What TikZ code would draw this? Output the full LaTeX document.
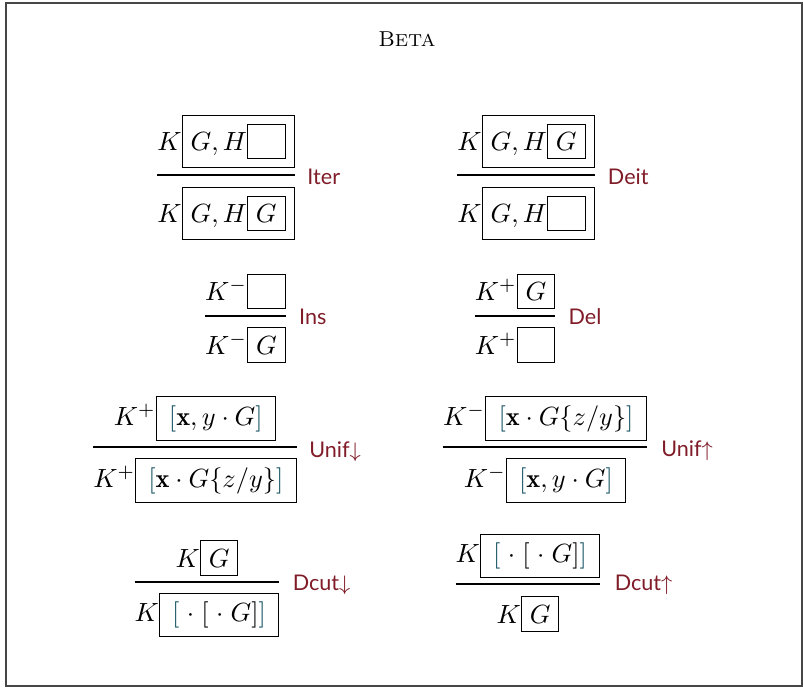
\documentclass[tikz,border=0pt]{standalone}
\usepackage{fontspec}
\newfontfamily\labfont{Lato}
\usetikzlibrary{calc}
\definecolor{labred}{RGB}{128,28,40}
\definecolor{brk}{RGB}{20,82,98}
\definecolor{framegray}{RGB}{70,70,70}
\newcommand{\lbr}{\mathopen{\textcolor{brk}{[}}}
\newcommand{\rbr}{\mathclose{\textcolor{brk}{]}}}
\newcommand{\ebox}{\fbox{$\phantom{G}$}}
\newcommand{\gbox}{\fbox{$G$}}
\setlength{\fboxsep}{3pt}
\setlength{\fboxrule}{0.4pt}
\tikzset{
  rf/.style={inner sep=0pt, outer sep=0pt},
  lab/.style={font=\labfont\fontsize{8.2}{10}\selectfont, text=labred, anchor=west, inner sep=0pt},
  ruleline/.style={line width=0.45pt},
  frame/.style={draw=framegray, line width=0.5pt},
  titlestyle/.style={inner sep=0pt}
}
\begin{document}
\begin{tikzpicture}[x=0.38pt, y=-0.38pt]
\useasboundingbox (0,0) rectangle (803,688);
\draw[frame] (6,3) rectangle (802,686);
\node[titlestyle] (title) at (407,39) {\fontsize{8.2}{10}\selectfont B\fontsize{6.6}{8}\selectfont ETA};

% Iter
\node[rf] (iterP) at (226,141.5) {$K\fbox{$G, H\ebox$}$};
\node[rf] (iterC) at (226,213.5) {$K\fbox{$G, H\gbox$}$};
\coordinate (iterY) at (226,175);
\draw[ruleline] (iterP.west |- iterY) -- (iterP.east |- iterY) coordinate (iterE);
\node[lab] (iterN) at ([xshift=4.7pt, yshift=-0.8pt]iterE) {Iter};

% Deit
\node[rf] (deitP) at (526,141.5) {$K\fbox{$G, H\gbox$}$};
\node[rf] (deitC) at (526,213.5) {$K\fbox{$G, H\ebox$}$};
\coordinate (deitY) at (526,175);
\draw[ruleline] (deitP.west |- deitY) -- (deitP.east |- deitY) coordinate (deitE);
\node[lab] (deitN) at ([xshift=4.9pt, yshift=-0.8pt]deitE) {Deit};

% Ins
\node[rf] (insP) at (245.5,291.5) {$K^-\ebox$};
\node[rf] (insC) at (245.5,345) {$K^-\gbox$};
\coordinate (insY) at (245.5,316);
\draw[ruleline] (insP.west |- insY) -- (insP.east |- insY) coordinate (insE);
\node[lab] (insN) at ([xshift=4.9pt, yshift=-0.4pt]insE) {Ins};

% Del
\node[rf] (delP) at (515,291.5) {$K^+\gbox$};
\node[rf] (delC) at (515,345) {$K^+\ebox$};
\coordinate (delY) at (515,316);
\draw[ruleline] (delP.west |- delY) -- (delP.east |- delY) coordinate (delE);
\node[lab] (delN) at ([xshift=4.9pt, yshift=-0.4pt]delE) {Del};

% Unif down
\node[rf] (udP) at (195,418.5) {$K^+\fbox{$\,\lbr\mathbf{x}, y\cdot G\rbr\,$}$};
\node[rf] (udC) at (195,480.5) {$K^+\fbox{$\,\lbr\mathbf{x}\cdot G\{z/y\}\rbr\,$}$};
\coordinate (udY) at (195,447);
\draw[ruleline] (udC.west |- udY) -- (udC.east |- udY) coordinate (udE);
\node[lab] (udN) at ([xshift=4.6pt, yshift=-1.6pt]udE) {Unif$\downarrow$};

% Unif up
\node[rf] (uuP) at (545,418.5) {$K^-\fbox{$\,\lbr\mathbf{x}\cdot G\{z/y\}\rbr\,$}$};
\node[rf] (uuC) at (545,480.5) {$K^-\fbox{$\,\lbr\mathbf{x}, y\cdot G\rbr\,$}$};
\coordinate (uuY) at (545,447);
\draw[ruleline] (uuP.west |- uuY) -- (uuP.east |- uuY) coordinate (uuE);
\node[lab] (uuN) at ([xshift=5.3pt, yshift=-1.2pt]uuE) {Unif$\uparrow$};

% Dcut down
\node[rf] (dcdP) at (207,558) {$K\gbox$};
\node[rf] (dcdC) at (207,615) {$K\fbox{$\,\lbr\;\cdot\;[\;\cdot\;G]\rbr\,$}$};
\coordinate (dcdY) at (207,582);
\draw[ruleline] (dcdC.west |- dcdY) -- (dcdC.east |- dcdY) coordinate (dcdE);
\node[lab] (dcdN) at ([xshift=4.9pt, yshift=-1.2pt]dcdE) {Dcut$\downarrow$};

% Dcut up
\node[rf] (dcuP) at (528,556) {$K\fbox{$\,\lbr\;\cdot\;[\;\cdot\;G]\rbr\,$}$};
\node[rf] (dcuC) at (528,614) {$K\gbox$};
\coordinate (dcuY) at (528,584);
\draw[ruleline] (dcuP.west |- dcuY) -- (dcuP.east |- dcuY) coordinate (dcuE);
\node[lab] (dcuN) at ([xshift=5.3pt, yshift=-0.4pt]dcuE) {Dcut$\uparrow$};
\end{tikzpicture}
\end{document}
